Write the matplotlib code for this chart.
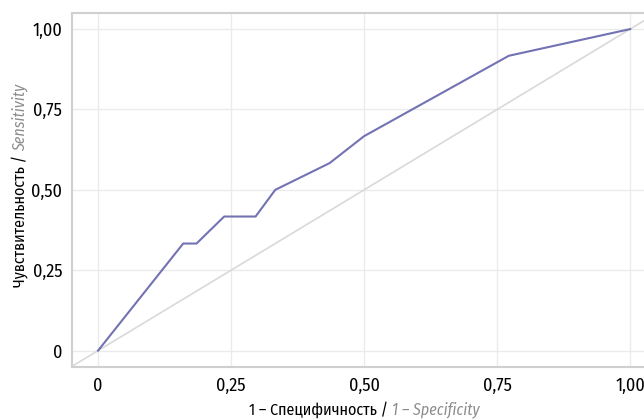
import matplotlib
matplotlib.use("Agg")
import matplotlib.pyplot as plt

# ROC curve points (1 - specificity, sensitivity)
fpr = [0, 0.16, 0.185, 0.237, 0.296, 0.333, 0.435, 0.5, 0.772, 1.0]
tpr = [0, 0.333, 0.333, 0.417, 0.417, 0.5, 0.583, 0.667, 0.917, 1.0]
ticks = [0, 0.25, 0.5, 0.75, 1.0]
tick_labels = ["0", "0,25", "0,50", "0,75", "1,00"]

plt.rcParams["font.family"] = ["Fira Sans Condensed", "DejaVu Sans"]

W, H = 644, 420
fig = plt.figure(figsize=(W / 100, H / 100), dpi=100)
ax = fig.add_axes([72 / W, (H - 367) / H, (W - 72) / W, (367 - 13) / H])

ax.set_xlim(-0.049, 1.026)
ax.set_ylim(-0.051, 1.05)

# reference diagonal
ax.plot([-0.1, 1.1], [-0.1, 1.1], color="#d9d9d9", lw=1.2, zorder=2)
ax.plot(fpr, tpr, color="#7272b4", lw=1.5, zorder=3)

ax.set_xticks(ticks)
ax.set_xticklabels(tick_labels)
ax.set_yticks(ticks)
ax.set_yticklabels(tick_labels)
ax.tick_params(length=0, labelsize=13, pad=7, colors="black")
ax.grid(True, color="#ebebeb", lw=1)
ax.set_axisbelow(True)
for s in ["left", "top", "bottom"]:
    ax.spines[s].set_color("#cfcfcf")
    ax.spines[s].set_linewidth(1.5)
ax.spines["right"].set_visible(False)

fig.canvas.draw()
r = fig.canvas.get_renderer()

# x label, two styles
t1 = fig.text(0, 0, "1 – Специфичность / ", fontsize=11.5, color="black",
              transform=None, va="center")
t2 = fig.text(0, 0, "1 – Specificity", fontsize=11.5, color="#8c8c8c",
              style="italic", transform=None, va="center")
w1 = t1.get_window_extent(r).width
w2 = t2.get_window_extent(r).width
x0 = 364 - (w1 + w2) / 2
yc = H - 410
t1.set_position((x0, yc))
t2.set_position((x0 + w1, yc))

# y label, rotated, two styles
u1 = fig.text(0, 0, "Чувствительность / ", fontsize=11.5, color="black",
              rotation=90, transform=None, ha="center", va="bottom")
u2 = fig.text(0, 0, "Sensitivity", fontsize=11.5, color="#8c8c8c",
              style="italic", rotation=90, transform=None, ha="center", va="bottom")
h1 = u1.get_window_extent(r).height
h2 = u2.get_window_extent(r).height
y0 = (H - 185) - (h1 + h2) / 2
xc = 20
u1.set_position((xc, y0))
u2.set_position((xc, y0 + h1))

fig.savefig("out.png", dpi=100)
